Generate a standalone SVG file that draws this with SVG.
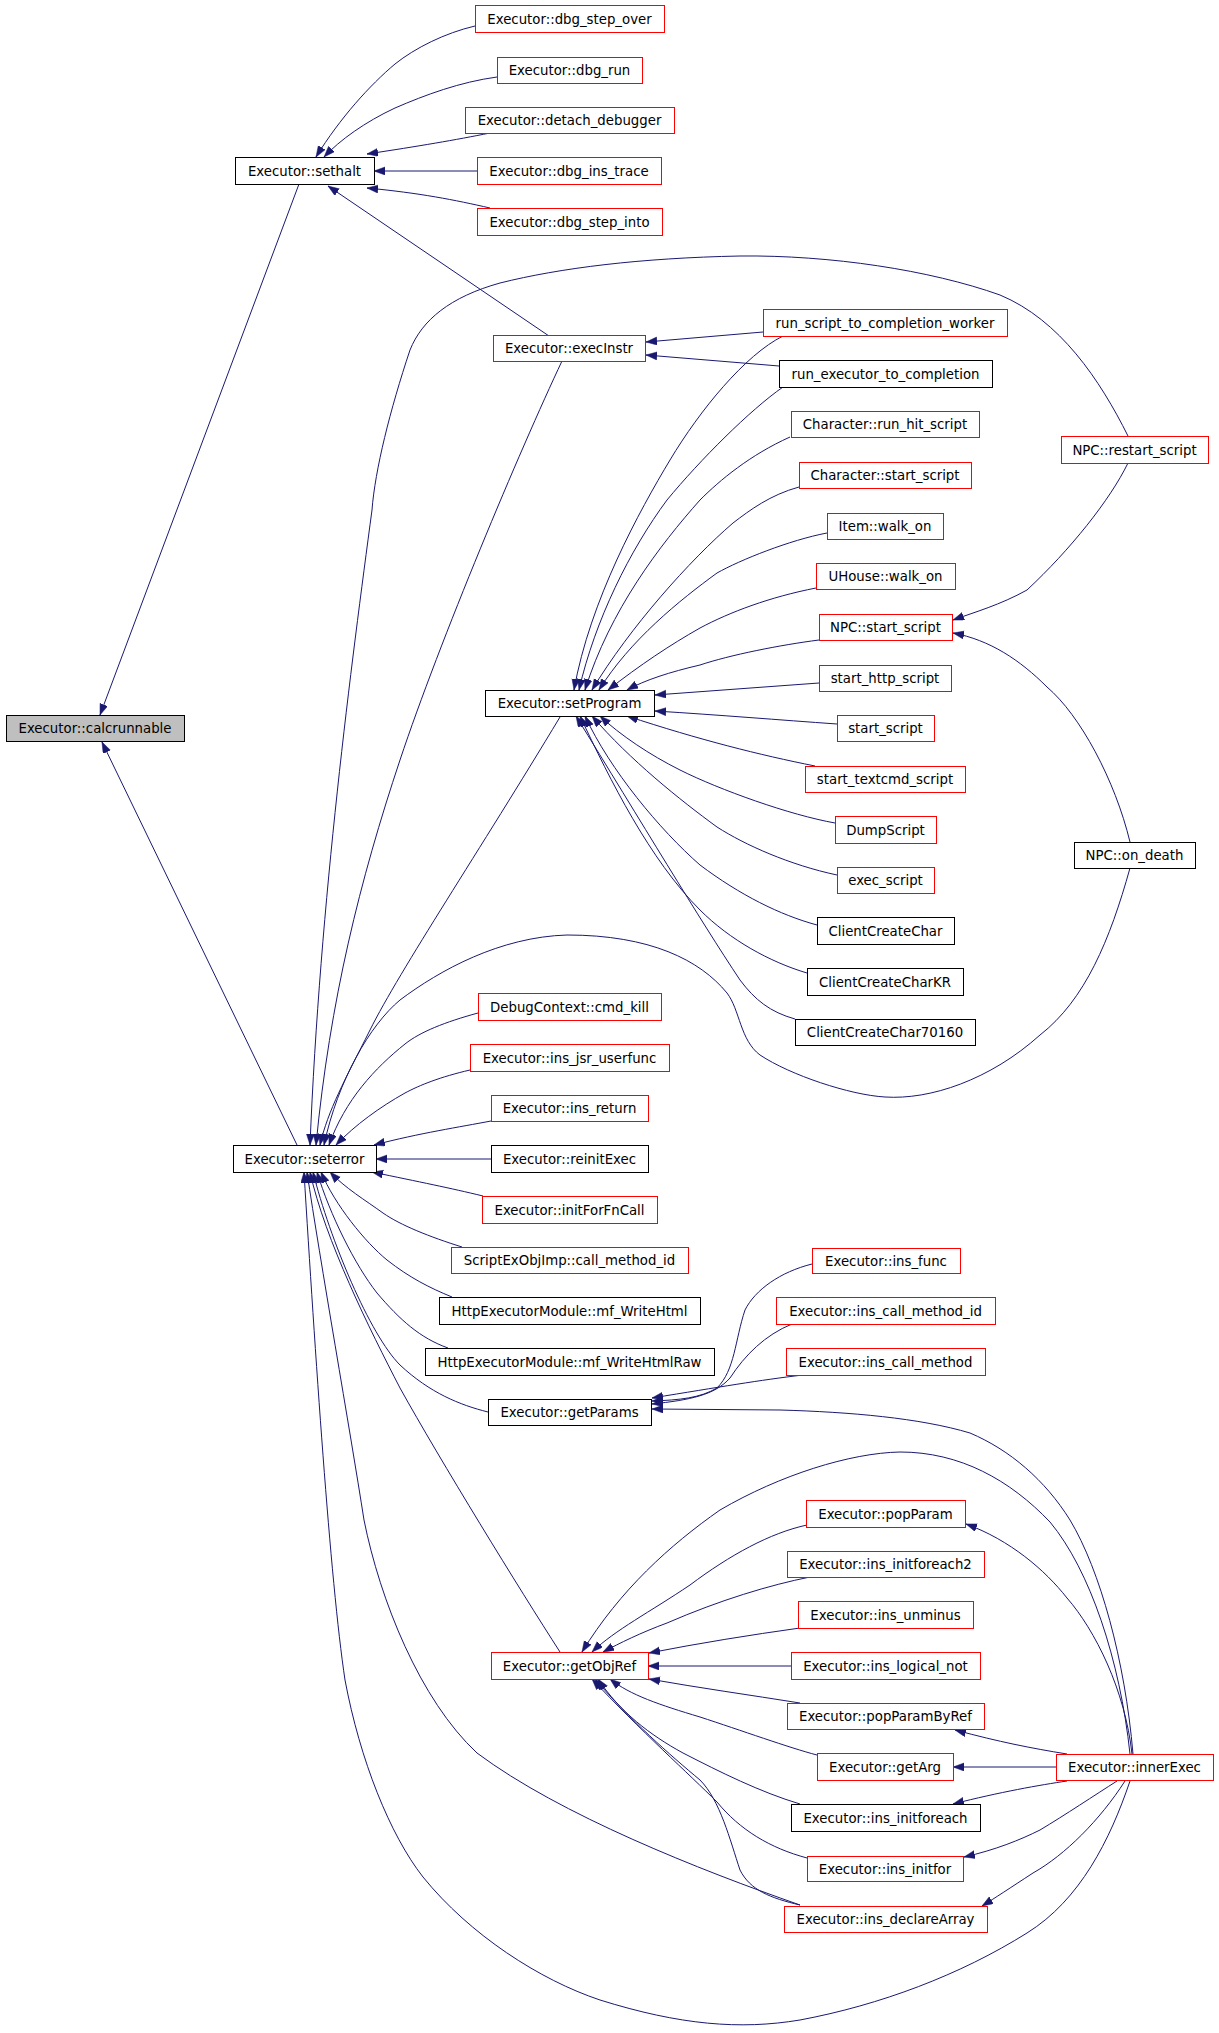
<svg xmlns="http://www.w3.org/2000/svg" width="1219" height="2033" viewBox="0 0 1219 2033">
<style>
.n rect{fill:#ffffff;stroke:#000000;stroke-width:1}
.n.r rect{stroke:#ff0000}
.n.g rect{fill:#bfbfbf}
.n text{font-family:"DejaVu Sans","Liberation Sans",sans-serif;font-size:13.3px;fill:#000000;text-anchor:middle}
#edges path{fill:none;stroke:#191970;stroke-width:1;marker-end:url(#ah)}
</style>
<defs>
<marker id="ah" markerUnits="userSpaceOnUse" markerWidth="12" markerHeight="9" refX="11" refY="4" orient="auto">
<path d="M0,0 L11,4 L0,8 z" fill="#191970" stroke="#191970" stroke-width="0.5"/>
</marker>
</defs>
<rect width="1219" height="2033" fill="#ffffff"/>
<g id="edges">
<path d="M299,184 L100,715"/>
<path d="M297,1145 L102,742"/>
<path d="M475,26 C445,33 415,48 395,64 C370,85 340,118 316,157"/>
<path d="M497,77 C460,82 425,95 395,108 C365,122 340,140 324,157"/>
<path d="M490,133 C455,140 420,146 367,154"/>
<path d="M477,171 L374,171"/>
<path d="M490,208 C455,200 420,193 367,188"/>
<path d="M549,336 L328,186"/>
<path d="M763,332 L646,342"/>
<path d="M779,366 L646,355"/>
<path d="M1128,436 C1100,380 1060,320 1000,295 C930,270 830,255 740,256 C640,258 560,268 500,283 C450,297 422,320 410,350 C390,410 375,470 372,510 C352,660 320,900 310,1145"/>
<path d="M562,361 C520,450 440,640 400,760 C360,880 330,1000 316,1145"/>
<path d="M560,717 C480,850 400,970 370,1030 C345,1080 328,1110 320,1145"/>
<path d="M1130,868 C1110,940 1085,1000 1040,1035 C990,1080 930,1100 885,1097 C850,1095 790,1075 760,1055 C740,1040 740,1010 727,993 C700,960 650,935 567,935 C500,937 440,970 400,1000 C370,1025 338,1080 324,1145"/>
<path d="M478,1013 C445,1022 420,1032 405,1044 C375,1068 345,1100 329,1145"/>
<path d="M470,1070 C440,1077 420,1085 405,1093 C380,1107 355,1125 336,1145"/>
<path d="M491,1121 C460,1127 420,1133 374,1145"/>
<path d="M491,1159 L376,1159"/>
<path d="M483,1196 C450,1188 420,1182 372,1172"/>
<path d="M462,1247 C430,1237 400,1225 383,1213 C365,1200 345,1188 330,1172"/>
<path d="M452,1297 C430,1288 410,1278 387,1260 C365,1242 335,1205 321,1172"/>
<path d="M448,1348 C420,1338 400,1320 377,1293 C355,1265 330,1215 317,1172"/>
<path d="M488,1412 C460,1405 430,1393 400,1365 C370,1335 330,1240 313,1172"/>
<path d="M560,1652 C520,1590 440,1460 400,1388 C370,1330 325,1240 310,1172"/>
<path d="M800,1905 C700,1870 560,1815 477,1753 C420,1700 380,1600 364,1520 C350,1430 320,1260 307,1172"/>
<path d="M1130,1781 C1110,1840 1080,1900 1027,1933 C960,1975 880,2005 800,2020 C740,2030 680,2025 600,2000 C540,1980 470,1935 423,1877 C390,1835 360,1760 345,1680 C330,1580 315,1350 304,1172"/>
<path d="M1128,463 C1110,500 1070,550 1027,590 C1000,605 975,612 953,620"/>
<path d="M1130,842 C1115,780 1080,715 1047,687 C1020,660 990,640 953,633"/>
<path d="M783,336 C745,355 700,410 670,460 C640,510 590,600 574,690"/>
<path d="M783,387 C750,410 700,460 667,500 C630,550 595,620 579,690"/>
<path d="M790,437 C750,455 720,480 700,500 C660,545 610,610 585,690"/>
<path d="M799,487 C770,495 750,510 733,523 C690,560 630,627 592,690"/>
<path d="M827,533 C790,540 740,560 717,573 C680,600 630,640 599,690"/>
<path d="M816,588 C770,597 730,612 700,628 C670,645 640,665 608,690"/>
<path d="M819,640 C780,645 730,655 700,665 C670,672 645,680 627,690"/>
<path d="M819,683 L655,695"/>
<path d="M837,724 C780,720 720,715 655,711"/>
<path d="M815,766 C760,755 700,740 627,716"/>
<path d="M835,823 C790,815 720,790 680,770 C650,755 620,735 600,716"/>
<path d="M837,875 C790,865 745,845 717,827 C680,800 630,760 592,716"/>
<path d="M817,925 C780,915 740,895 700,865 C660,830 610,770 585,716"/>
<path d="M807,973 C770,962 730,940 700,910 C650,860 610,780 580,716"/>
<path d="M795,1019 C770,1012 755,1000 740,980 C700,920 640,820 576,716"/>
<path d="M812,1264 C780,1272 755,1290 745,1310 C735,1340 735,1370 717,1388 C700,1398 680,1400 652,1401"/>
<path d="M792,1324 C765,1335 745,1355 730,1378 C715,1395 690,1400 652,1404"/>
<path d="M803,1375 C760,1380 720,1387 652,1398"/>
<path d="M1133,1754 C1125,1660 1100,1570 1070,1520 C1045,1480 1010,1450 970,1433 C920,1418 850,1412 780,1410 L652,1409"/>
<path d="M1130,1754 C1120,1660 1090,1570 1050,1522 C1010,1480 960,1452 900,1452 C850,1453 780,1475 720,1510 C670,1545 620,1590 582,1652"/>
<path d="M1132,1754 C1125,1690 1095,1630 1067,1598 C1045,1570 1010,1540 966,1524"/>
<path d="M1067,1754 C1030,1748 1000,1742 955,1730"/>
<path d="M1056,1767 L953,1767"/>
<path d="M1067,1781 C1040,1785 1000,1792 953,1804"/>
<path d="M1117,1781 C1095,1795 1065,1815 1040,1830 C1020,1840 995,1850 964,1857"/>
<path d="M1125,1781 C1100,1820 1065,1855 1033,1873 C1010,1888 995,1898 982,1906"/>
<path d="M807,1525 C770,1533 730,1555 690,1585 C650,1612 615,1630 592,1652"/>
<path d="M810,1577 C770,1585 720,1600 667,1623 C640,1633 620,1643 603,1652"/>
<path d="M800,1628 C750,1635 700,1643 649,1653"/>
<path d="M791,1666 L648,1666"/>
<path d="M800,1703 C750,1695 700,1688 649,1679"/>
<path d="M817,1755 C790,1748 740,1730 700,1717 C660,1705 630,1695 610,1679"/>
<path d="M800,1804 C760,1792 720,1772 683,1753 C650,1735 620,1712 598,1679"/>
<path d="M807,1858 C770,1848 740,1830 717,1802 C690,1775 640,1730 592,1679"/>
<path d="M800,1905 C770,1898 750,1890 740,1870 C730,1840 720,1800 700,1780 C670,1755 630,1720 595,1679"/>
</g>
<g id="n_calcrunnable" class="n g"><rect x="6.5" y="715.5" width="178" height="26"/><text x="95" y="732.5">Executor::calcrunnable</text></g>
<g id="n_sethalt" class="n"><rect x="235.5" y="157.5" width="139" height="27"/><text x="304.5" y="175.5">Executor::sethalt</text></g>
<g id="n_seterror" class="n"><rect x="233.5" y="1145.5" width="143" height="27"/><text x="304.5" y="1163.5">Executor::seterror</text></g>
<g id="n_dbg_step_over" class="n r"><rect x="475.5" y="5.5" width="189" height="27"/><text x="569.5" y="23.5">Executor::dbg_step_over</text></g>
<g id="n_dbg_run" class="n r"><rect x="497.5" y="57.5" width="145" height="26"/><text x="569.5" y="75">Executor::dbg_run</text></g>
<g id="n_detach_debugger" class="n r"><rect x="465.5" y="107.5" width="209" height="26"/><text x="569.5" y="125">Executor::detach_debugger</text></g>
<g id="n_dbg_ins_trace" class="n r"><rect x="477.5" y="157.5" width="184" height="27"/><text x="569" y="175.5">Executor::dbg_ins_trace</text></g>
<g id="n_dbg_step_into" class="n r"><rect x="477.5" y="208.5" width="185" height="27"/><text x="569.5" y="226.5">Executor::dbg_step_into</text></g>
<g id="n_execInstr" class="n r"><rect x="493.5" y="335.5" width="152" height="26"/><text x="569" y="353">Executor::execInstr</text></g>
<g id="n_setProgram" class="n"><rect x="485.5" y="690.5" width="169" height="26"/><text x="569.5" y="708">Executor::setProgram</text></g>
<g id="n_worker" class="n r"><rect x="763.5" y="309.5" width="244" height="27"/><text x="885" y="327.5">run_script_to_completion_worker</text></g>
<g id="n_run_executor" class="n"><rect x="779.5" y="360.5" width="213" height="27"/><text x="885.5" y="378.5">run_executor_to_completion</text></g>
<g id="n_run_hit_script" class="n r"><rect x="791.5" y="411.5" width="188" height="26"/><text x="885" y="429">Character::run_hit_script</text></g>
<g id="n_char_start_script" class="n r"><rect x="799.5" y="462.5" width="172" height="26"/><text x="885" y="480">Character::start_script</text></g>
<g id="n_item_walk_on" class="n r"><rect x="827.5" y="513.5" width="116" height="26"/><text x="885" y="531">Item::walk_on</text></g>
<g id="n_uhouse_walk_on" class="n r"><rect x="816.5" y="563.5" width="139" height="26"/><text x="885.5" y="581">UHouse::walk_on</text></g>
<g id="n_npc_start_script" class="n r"><rect x="819.5" y="614.5" width="133" height="26"/><text x="885.5" y="632">NPC::start_script</text></g>
<g id="n_start_http_script" class="n r"><rect x="819.5" y="665.5" width="132" height="26"/><text x="885" y="683">start_http_script</text></g>
<g id="n_start_script" class="n r"><rect x="837.5" y="715.5" width="97" height="26"/><text x="885.5" y="733">start_script</text></g>
<g id="n_start_textcmd_script" class="n r"><rect x="805.5" y="766.5" width="160" height="26"/><text x="885" y="784">start_textcmd_script</text></g>
<g id="n_DumpScript" class="n r"><rect x="835.5" y="816.5" width="101" height="27"/><text x="885.5" y="834.5">DumpScript</text></g>
<g id="n_exec_script" class="n r"><rect x="837.5" y="867.5" width="97" height="26"/><text x="885.5" y="885">exec_script</text></g>
<g id="n_ClientCreateChar" class="n"><rect x="817.5" y="917.5" width="137" height="27"/><text x="885.5" y="935.5">ClientCreateChar</text></g>
<g id="n_ClientCreateCharKR" class="n"><rect x="807.5" y="968.5" width="156" height="27"/><text x="885" y="986.5">ClientCreateCharKR</text></g>
<g id="n_ClientCreateChar70160" class="n"><rect x="795.5" y="1019.5" width="180" height="26"/><text x="885" y="1037">ClientCreateChar70160</text></g>
<g id="n_npc_restart_script" class="n r"><rect x="1061.5" y="436.5" width="147" height="27"/><text x="1134.5" y="454.5">NPC::restart_script</text></g>
<g id="n_npc_on_death" class="n"><rect x="1074.5" y="842.5" width="121" height="26"/><text x="1134.5" y="860">NPC::on_death</text></g>
<g id="n_cmd_kill" class="n r"><rect x="478.5" y="993.5" width="183" height="27"/><text x="569.5" y="1011.5">DebugContext::cmd_kill</text></g>
<g id="n_ins_jsr_userfunc" class="n r"><rect x="470.5" y="1044.5" width="199" height="27"/><text x="569.5" y="1062.5">Executor::ins_jsr_userfunc</text></g>
<g id="n_ins_return" class="n r"><rect x="491.5" y="1095.5" width="157" height="26"/><text x="569.5" y="1113">Executor::ins_return</text></g>
<g id="n_reinitExec" class="n"><rect x="491.5" y="1145.5" width="157" height="27"/><text x="569.5" y="1163.5">Executor::reinitExec</text></g>
<g id="n_initForFnCall" class="n r"><rect x="482.5" y="1196.5" width="175" height="27"/><text x="569.5" y="1214.5">Executor::initForFnCall</text></g>
<g id="n_call_method_id" class="n r"><rect x="451.5" y="1247.5" width="237" height="26"/><text x="569.5" y="1265">ScriptExObjImp::call_method_id</text></g>
<g id="n_mf_WriteHtml" class="n"><rect x="439.5" y="1297.5" width="261" height="27"/><text x="569.5" y="1315.5">HttpExecutorModule::mf_WriteHtml</text></g>
<g id="n_mf_WriteHtmlRaw" class="n"><rect x="425.5" y="1348.5" width="289" height="27"/><text x="569.5" y="1366.5">HttpExecutorModule::mf_WriteHtmlRaw</text></g>
<g id="n_getParams" class="n"><rect x="488.5" y="1399.5" width="163" height="26"/><text x="569.5" y="1417">Executor::getParams</text></g>
<g id="n_ins_func" class="n r"><rect x="812.5" y="1248.5" width="148" height="25"/><text x="886" y="1265.5">Executor::ins_func</text></g>
<g id="n_ins_call_method_id" class="n r"><rect x="776.5" y="1297.5" width="219" height="27"/><text x="885.5" y="1315.5">Executor::ins_call_method_id</text></g>
<g id="n_ins_call_method" class="n r"><rect x="786.5" y="1348.5" width="199" height="27"/><text x="885.5" y="1366.5">Executor::ins_call_method</text></g>
<g id="n_popParam" class="n r"><rect x="806.5" y="1500.5" width="159" height="27"/><text x="885.5" y="1518.5">Executor::popParam</text></g>
<g id="n_ins_initforeach2" class="n r"><rect x="787.5" y="1551.5" width="197" height="26"/><text x="885.5" y="1569">Executor::ins_initforeach2</text></g>
<g id="n_ins_unminus" class="n r"><rect x="798.5" y="1601.5" width="175" height="27"/><text x="885.5" y="1619.5">Executor::ins_unminus</text></g>
<g id="n_ins_logical_not" class="n r"><rect x="791.5" y="1652.5" width="189" height="27"/><text x="885.5" y="1670.5">Executor::ins_logical_not</text></g>
<g id="n_popParamByRef" class="n r"><rect x="787.5" y="1703.5" width="197" height="26"/><text x="885.5" y="1721">Executor::popParamByRef</text></g>
<g id="n_getArg" class="n r"><rect x="817.5" y="1753.5" width="136" height="27"/><text x="885" y="1771.5">Executor::getArg</text></g>
<g id="n_ins_initforeach" class="n"><rect x="791.5" y="1804.5" width="189" height="27"/><text x="885.5" y="1822.5">Executor::ins_initforeach</text></g>
<g id="n_ins_initfor" class="n r"><rect x="807.5" y="1856.5" width="156" height="25"/><text x="885" y="1873.5">Executor::ins_initfor</text></g>
<g id="n_ins_declareArray" class="n r"><rect x="784.5" y="1906.5" width="203" height="26"/><text x="885.5" y="1924">Executor::ins_declareArray</text></g>
<g id="n_getObjRef" class="n r"><rect x="491.5" y="1652.5" width="157" height="27"/><text x="569.5" y="1670.5">Executor::getObjRef</text></g>
<g id="n_innerExec" class="n r"><rect x="1056.5" y="1754.5" width="157" height="26"/><text x="1134.5" y="1772">Executor::innerExec</text></g>
</svg>
